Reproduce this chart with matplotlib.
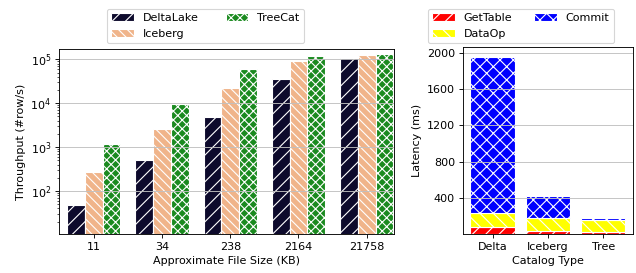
import numpy as np
import matplotlib
matplotlib.use("Agg")
import matplotlib.pyplot as plt

plt.rcParams['hatch.color'] = 'white'
plt.rcParams['font.size'] = 10

sizes = ['11', '34', '238', '2164', '21758']
delta = [48, 510, 4800, 36500, 106000]
iceberg = [267, 2600, 22800, 91000, 127000]
treecat = [1160, 9800, 59000, 119000, 133000]

catalogs = ['Delta', 'Iceberg', 'Tree']
get_table = [80, 32, 25]
data_op = [155, 140, 128]
commit = [1721, 246, 27]

# the reference looks like an 80 dpi render
fig = plt.figure(figsize=(636 / 80, 273 / 80), dpi=80)
ax1 = fig.add_axes([0.0928, 0.1429, 0.5267, 0.6777])
ax2 = fig.add_axes([0.7275, 0.1429, 0.2678, 0.685])

x = np.arange(len(sizes))
w = 0.26
ax1.bar(x - w, delta, w, color='#0d0a2c', edgecolor='white', hatch='//', label='DeltaLake')
ax1.bar(x, iceberg, w, color='#f0b48a', edgecolor='white', hatch='\\\\\\', label='Iceberg')
ax1.bar(x + w, treecat, w, color='#1a8a1f', edgecolor='white', hatch='xxx', label='TreeCat')
ax1.set_yscale('log')
ax1.set_ylim(10.5, 1.72e5)
ax1.set_xticks(x)
ax1.set_xticklabels(sizes)
ax1.set_xlim(-0.51, 4.4)
ax1.set_xlabel('Approximate File Size (KB)')
ax1.set_ylabel('Throughput (#row/s)')
ax1.grid(axis='y', color='#c0c0c0')
ax1.legend(ncol=2, loc='lower left', bbox_to_anchor=(0.168, 0.8425),
           bbox_transform=fig.transFigure, borderaxespad=0, columnspacing=2.5)

xc = np.arange(len(catalogs))
b1 = np.array(get_table)
b2 = b1 + np.array(data_op)
ax2.bar(xc, get_table, 0.8, color='red', edgecolor='white', hatch='//', label='GetTable')
ax2.bar(xc, data_op, 0.8, bottom=b1, color='yellow', edgecolor='white', hatch='\\\\', label='DataOp')
ax2.bar(xc, commit, 0.8, bottom=b2, color='blue', edgecolor='white', hatch='xx', label='Commit')
ax2.set_ylim(0, 2065)
ax2.set_yticks([400, 800, 1200, 1600, 2000])
ax2.set_xticks(xc)
ax2.set_xticklabels(catalogs)
ax2.set_xlim(-0.54, 2.54)
ax2.set_xlabel('Catalog Type')
ax2.set_ylabel('Latency (ms)')
ax2.grid(axis='y', color='#c0c0c0')
ax2.legend(ncol=2, loc='lower left', bbox_to_anchor=(0.673, 0.8425),
           bbox_transform=fig.transFigure, borderaxespad=0)

fig.savefig('out.png', dpi=80)
